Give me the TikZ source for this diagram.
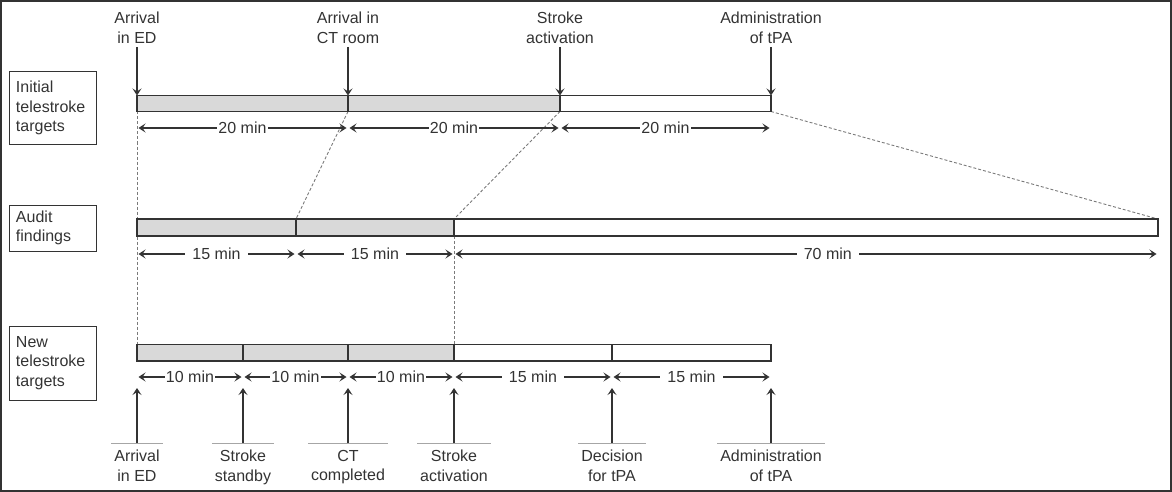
\documentclass[tikz,border=0pt]{standalone}
\usepackage{fontspec}
\setmainfont{Liberation Sans}
\usetikzlibrary{arrows.meta}
\definecolor{ink}{HTML}{333333}
\definecolor{barfill}{HTML}{D9D9D9}
\definecolor{guidegray}{HTML}{7A7A7A}
\tikzset{
	rowlabel/.style={draw=ink, line width=1pt, minimum width=87pt, text width=74pt, inner xsep=6.5pt, align=left, text=ink, font=\fontsize{16}{19.5}\selectfont},
	topev/.style={anchor=south, align=center, inner ysep=3.5pt, inner xsep=2pt, text=ink, font=\fontsize{16}{19.5}\selectfont},
	botev/.style={anchor=north, align=center, inner ysep=7pt, inner xsep=3pt, text=ink, font=\fontsize{16}{19.5}\selectfont},
	evarrow/.style={-{Stealth[length=7pt, width=9pt, inset=3pt]}, line width=1.5pt, draw=ink},
	span/.style={{Stealth[length=7pt, width=9pt, inset=3pt]}-{Stealth[length=7pt, width=9pt, inset=3pt]}, line width=1.3pt, draw=ink, shorten <=1.5pt, shorten >=1.5pt},
	tight/.style={fill=white, inner xsep=1pt, inner ysep=1pt, text=ink, font=\fontsize{16}{19.5}\selectfont},
	gap/.style={fill=white, inner xsep=7pt, inner ysep=1pt, text=ink, font=\fontsize{16}{19.5}\selectfont},
	guide/.style={draw=guidegray, line width=0.9pt, dash pattern=on 3pt off 2pt},
	busy/.style={draw=ink, line width=1.4pt, fill=barfill},
	idle/.style={draw=ink, line width=1.4pt, fill=white},
	rule/.style={draw=gray!70, line width=1pt},
}
\begin{document}
\begin{tikzpicture}[x=1pt, y=-1pt]
	\useasboundingbox (0,0) rectangle (1172,492);
	\draw[ink, line width=2pt] (1,1) rectangle (1171,491);
	% row labels
	\node[rowlabel, minimum height=72pt] (initial) at (53,108) {Initial\\telestroke\\targets};
	\node[rowlabel, minimum height=46pt] (audit) at (53,228) {Audit\\findings};
	\node[rowlabel, minimum height=74pt] (newtargets) at (53,363) {New\\telestroke\\targets};
	% points on the bars
	\foreach \n/\x in {0/137,1/348,2/560,3/771} {\coordinate (it\n) at (\x,95.5); \coordinate (ib\n) at (\x,111.5); \coordinate (id\n) at (\x,128);}
	\foreach \n/\x in {0/137,1/296,2/454,3/1158} {\coordinate (at\n) at (\x,219); \coordinate (ab\n) at (\x,236); \coordinate (ad\n) at (\x,254);}
	\foreach \n/\x in {0/137,1/243,2/348,3/454,4/612,5/771} {\coordinate (nt\n) at (\x,344.5); \coordinate (nb\n) at (\x,361); \coordinate (nd\n) at (\x,377); \coordinate (nu\n) at (\x,388);}
	% dashed guides
	\draw[guide] (ib0) -- (nt0);
	\draw[guide] (ib1) -- (at1);
	\draw[guide] (ib2) -- (at2);
	\draw[guide] (ib3) -- (at3);
	\draw[guide] (ab2) -- (nt3);
	% bars
	\draw[busy] (it0) rectangle (ib1);
	\draw[busy] (it1) rectangle (ib2);
	\draw[idle] (it2) rectangle (ib3);
	\draw[busy] (at0) rectangle (ab1);
	\draw[busy] (at1) rectangle (ab2);
	\draw[idle] (at2) rectangle (ab3);
	\draw[busy] (nt0) rectangle (nb1);
	\draw[busy] (nt1) rectangle (nb2);
	\draw[busy] (nt2) rectangle (nb3);
	\draw[idle] (nt3) rectangle (nb4);
	\draw[idle] (nt4) rectangle (nb5);
	% events above
	\node[topev] (arrivalED) at (137,47) {Arrival\\in ED};
	\node[topev] (arrivalCT) at (348,47) {Arrival in\\CT room};
	\node[topev] (activationTop) at (560,47) {Stroke\\activation};
	\node[topev] (tpaTop) at (771,47) {Administration\\of tPA};
	\draw[evarrow] (arrivalED) -- (it0);
	\draw[evarrow] (arrivalCT) -- (it1);
	\draw[evarrow] (activationTop) -- (it2);
	\draw[evarrow] (tpaTop) -- (it3);
	% events below
	\node[botev] (arrivalNew) at (137,443) {Arrival\\in ED};
	\node[botev] (standby) at (243,443) {Stroke\\standby};
	\node[botev] (ctdone) at (348,443) {CT\\completed};
	\node[botev] (activationNew) at (454,443) {Stroke\\activation};
	\node[botev] (decision) at (612,443) {Decision\\for tPA};
	\node[botev] (tpaNew) at (771,443) {Administration\\of tPA};
	\foreach \e/\n in {arrivalNew/0,standby/1,ctdone/2,activationNew/3,decision/4,tpaNew/5} {
		\draw[rule] (\e.north west) -- (\e.north east);
		\draw[evarrow] (\e) -- (nu\n);
	}
	% durations
	\draw[span] (id0) -- node[tight] {20 min} (id1);
	\draw[span] (id1) -- node[tight] {20 min} (id2);
	\draw[span] (id2) -- node[tight] {20 min} (id3);
	\draw[span] (ad0) -- node[gap] {15 min} (ad1);
	\draw[span] (ad1) -- node[gap] {15 min} (ad2);
	\draw[span] (ad2) -- node[gap, pos=0.531] {70 min} (ad3);
	\draw[span] (nd0) -- node[tight] {10 min} (nd1);
	\draw[span] (nd1) -- node[tight] {10 min} (nd2);
	\draw[span] (nd2) -- node[tight] {10 min} (nd3);
	\draw[span] (nd3) -- node[gap] {15 min} (nd4);
	\draw[span] (nd4) -- node[gap] {15 min} (nd5);
\end{tikzpicture}
\end{document}
